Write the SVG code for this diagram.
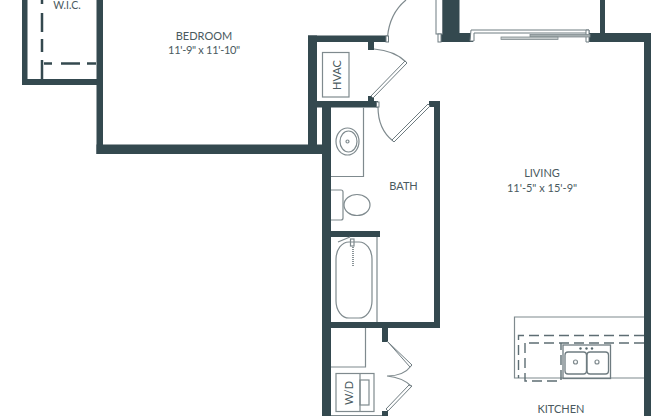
<svg xmlns="http://www.w3.org/2000/svg" width="652" height="416" viewBox="0 0 652 416">
<style>
.w{fill:#34494f;stroke:none}
.l{fill:none;stroke:#7f8a8e;stroke-width:1.2}
.d{fill:none;stroke:#6f7c81;stroke-width:1.3}
.leaf{fill:#fff;stroke:#6f7c81;stroke-width:1}
.t{font-family:"Lato","Liberation Sans",sans-serif;font-size:11px;fill:#4a5a60;text-anchor:middle}
.dash{fill:none;stroke:#5d6d73;stroke-width:1.4;stroke-dasharray:10 5}
.thick{fill:none;stroke:#34494f;stroke-width:2.5}
</style>
<rect width="652" height="416" fill="#fff"/>
<g id="walls">
<rect class="w" x="22" y="0" width="5.5" height="85"/>
<rect class="w" x="22" y="79" width="81" height="6"/>
<rect class="w" x="96.500" y="0" width="6.500" height="154"/>
<rect class="w" x="96.500" y="144.500" width="234" height="9.500"/>
<rect class="w" x="308" y="35.500" width="9" height="110"/>
<rect class="w" x="308" y="35.500" width="79" height="6.500"/>
<rect class="w" x="317" y="101" width="61" height="6.500"/>
<rect class="w" x="322" y="101" width="9" height="315"/>
<rect class="w" x="368" y="42" width="6" height="8"/>
<rect class="w" x="368" y="96" width="6" height="6"/>
<rect class="w" x="434" y="101" width="6" height="227"/>
<rect class="w" x="429" y="101" width="11" height="6"/>
<rect class="w" x="331" y="322" width="109" height="6"/>
<rect class="w" x="331" y="231" width="49" height="6"/>
<rect class="w" x="382" y="328" width="6" height="14"/>
<rect class="w" x="382" y="411" width="6" height="5"/>
<rect class="w" x="443" y="0" width="16.500" height="42"/>
<rect class="w" x="439" y="33" width="34" height="9"/>
<rect class="w" x="600" y="0" width="5" height="34"/>
<rect class="w" x="588" y="33" width="63" height="9"/>
<rect class="w" x="644" y="33" width="7" height="383"/>
</g>
<g id="wic">
<path class="thick" d="M42 0V4M42 13V32M42 39V52M42 60V79"/>
<path class="thick" d="M44 63.500H52M61 63.500H80M87 63.500H96"/>
<text class="t" x="67" y="9" style="font-size:10.500px">W.I.C.</text>
</g>
<g id="bedroom">
<text class="t" x="204" y="39.500">BEDROOM</text>
<text class="t" x="204" y="54" style="letter-spacing:-.3px">11'-9" x 11'-10"</text>
</g>
<g id="hvac">
<rect class="l" x="322.500" y="52.500" width="26.500" height="44.500"/>
<text class="t" transform="translate(341 75) rotate(-90)">HVAC</text>
</g>
<g id="entry">
<path class="l" d="M387.500 37C389 20 395 9 406 0"/>
<rect class="leaf" x="436" y="-2" width="6.500" height="36"/>
<rect class="leaf" x="438" y="34" width="3" height="8"/>
<rect class="leaf" x="386" y="36" width="2.500" height="6"/>
</g>
<g id="closet-door">
<path class="l" d="M374 49C387 50 398 54 406 62"/>
<path class="leaf" d="M405 61L407 63L373 98L371 96Z"/>
</g>
<g id="bath-door">
<path class="l" d="M378 107C378 122 384 134 393 141"/>
<path class="leaf" d="M428 104L430 106L394 142L392 140Z"/>
<rect class="leaf" x="376.500" y="102" width="2.500" height="5"/>
</g>
<g id="slider">
<path class="leaf" d="M471 30H589V33H474V41H470Z"/>
<path class="leaf" d="M586 30H589V42H586Z"/>
<rect x="530" y="34.500" width="60" height="2.500" fill="#a5aeb0" stroke="#7f8a8e" stroke-width=".8"/>
<rect x="501" y="37" width="57" height="2.500" fill="#c5cbcc" stroke="#7f8a8e" stroke-width=".8"/>
</g>
<g id="bath">
<path class="l" d="M363.500 107.500V176.500H331"/>
<ellipse class="l" cx="347.500" cy="141.500" rx="11.500" ry="13.500"/>
<ellipse class="l" cx="348.500" cy="141.500" rx="8.500" ry="10.500"/>
<circle class="l" cx="347.500" cy="141.500" r="1.500"/>
<path class="l" d="M331 190H341Q343 190 343 192V218Q343 220 341 220H331"/>
<ellipse class="l" cx="357" cy="205" rx="13" ry="10.500"/>
<rect class="l" x="336" y="242" width="36" height="76" rx="13" ry="17"/>
<path class="l" d="M377 237V322M338 242L350 237"/>
<rect class="l" x="350.500" y="239" width="3.500" height="7"/>
<path d="M353 247V267" stroke="#8a9498" stroke-width="2" stroke-dasharray="1 1" fill="none"/>
<text class="t" x="403.500" y="190">BATH</text>
</g>
<g id="laundry">
<path class="l" d="M365.500 328V367H331"/>
<rect class="l" x="336" y="373.500" width="38" height="38"/>
<path class="l" d="M360 373.500V411.500"/>
<rect class="l" x="360" y="380" width="9" height="25"/>
<path class="l" d="M331 415.500H382"/>
<text class="t" transform="translate(353 393) rotate(-90)">W/D</text>
<path class="leaf" d="M387 341L389 343L412 365L410 367Z"/>
<path class="leaf" d="M409 385L412 386L388 411L386 409Z"/>
<path class="l" d="M411 366C406 373 397 376 387 376C397 377 405 380 411 386"/>
</g>
<g id="kitchen">
<path class="l" d="M644 317H514.500V378H644"/>
<path class="dash" d="M644 335.500H518.500V378"/>
<path class="dash" d="M644 343H525"/>
<path class="dash" d="M525 343V381H561V343" stroke-dasharray="7 4"/>
<rect class="d" x="563" y="345" width="47.500" height="33.500"/>
<rect class="d" x="565" y="352" width="21.500" height="22" rx="3"/>
<rect class="d" x="587" y="352" width="21.500" height="22" rx="3"/>
<circle class="l" cx="575.500" cy="362" r="2"/>
<circle class="l" cx="597" cy="362" r="2"/>
<circle cx="580.500" cy="348.500" r="1.200" fill="#56676d"/>
<circle cx="586.500" cy="348.500" r="1.200" fill="#56676d"/>
<circle cx="592" cy="348.500" r="1.200" fill="#56676d"/>
<text class="t" x="561" y="413">KITCHEN</text>
</g>
<g id="living">
<text class="t" x="542" y="177">LIVING</text>
<text class="t" x="542" y="192">11'-5" x 15'-9"</text>
</g>
</svg>
